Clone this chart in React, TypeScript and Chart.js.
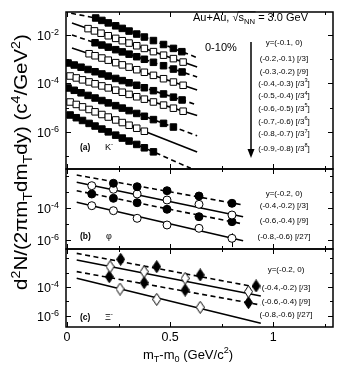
import React, { useEffect, useRef } from "react";
import { Chart, registerables } from "chart.js";
Chart.register(...registerables);

const FONT = "'Liberation Sans', Arial, Helvetica, sans-serif";
const W = 357;
const H = 377;
const PLOT_LEFT = 66;
const PLOT_RIGHT = 333;
const X_MIN = -0.005;
const X_MAX = 1.29;
const X_TICKS = [0, 0.25, 0.5, 0.75, 1, 1.25];
const X_LABELED = [0, 0.5, 1];
const X_TICK_LABELS = ["0", "0.5", "1"];

// ---------------- Panel (a): K- ----------------
const kLegend = [
  "y=(-0.1, 0)",
  "(-0.2,-0.1) [/3]",
  "(-0.3,-0.2) [/9]",
  "(-0.4,-0.3) [/3^{3}]",
  "(-0.5,-0.4) [/3^{4}]",
  "(-0.6,-0.5) [/3^{5}]",
  "(-0.7,-0.6) [/3^{6}]",
  "(-0.8,-0.7) [/3^{7}]",
  "(-0.9,-0.8) [/3^{8}]",
];
const kX1 = [0.139, 0.169, 0.2, 0.236, 0.268, 0.301, 0.338, 0.375, 0.419, 0.468, 0.516, 0.557];
const kY1 = [0.0502, 0.0399, 0.0315, 0.0239, 0.0187, 0.01452, 0.01094, 0.00824, 0.00589, 0.00405, 0.0028, 0.00205];
const kX2 = [0.102, 0.133, 0.165, 0.2, 0.236, 0.268, 0.301, 0.338, 0.375, 0.419, 0.468, 0.516, 0.563];
const kY2 = [0.01828, 0.01476, 0.01183, 0.0093, 0.00726, 0.00582, 0.00464, 0.0036, 0.00279, 0.00206, 0.00147, 0.00106, 0.000764];
const kX3 = [0.136, 0.169, 0.2, 0.236, 0.268, 0.301, 0.338, 0.375, 0.419, 0.468, 0.516, 0.558];
const kY3 = [0.00479, 0.00385, 0.00315, 0.00248, 0.00201, 0.00162, 0.00127, 0.000997, 0.000747, 0.000541, 0.000394, 0.000299];
const kX4 = [0.107, 0.136, 0.169, 0.2, 0.236, 0.268, 0.301, 0.338, 0.375, 0.419, 0.468, 0.516, 0.563];
const kY4 = [0.001687, 0.001393, 0.001122, 0.000916, 0.000723, 0.000586, 0.000472, 0.00037, 0.00029, 0.000217, 0.0001574, 0.0001148, 0.0000843];
const kX5 = [0.005, 0.035, 0.068, 0.102, 0.136, 0.169, 0.2, 0.236, 0.268, 0.301, 0.338, 0.375, 0.419, 0.468, 0.516, 0.558];
const kY5 = [0.0007, 0.000578, 0.000469, 0.000378, 0.000305, 0.000247, 0.000203, 0.0001614, 0.0001318, 0.0001069, 0.0000845, 0.0000668, 0.0000505, 0.000037, 0.0000273, 0.0000209];
const kX6 = [0.015, 0.045, 0.075, 0.107, 0.136, 0.169, 0.2, 0.236, 0.268, 0.301, 0.338, 0.375, 0.419, 0.468, 0.516, 0.563];
const kY6 = [0.0002037, 0.0001695, 0.0001413, 0.0001161, 0.0000973, 0.0000796, 0.0000659, 0.0000529, 0.0000436, 0.0000356, 0.0000284, 0.0000226, 0.0000173, 0.00001285, 0.00000958, 0.00000719];
const kX7 = [0.005, 0.035, 0.068, 0.102, 0.136, 0.169, 0.2, 0.236, 0.268, 0.301, 0.338, 0.375, 0.419, 0.468, 0.516];
const kY7 = [6.52e-5, 5.24e-5, 4.13e-5, 3.22e-5, 2.52e-5, 1.98e-5, 1.585e-5, 1.219e-5, 9.68e-6, 7.62e-6, 5.82e-6, 4.45e-6, 3.24e-6, 2.27e-6, 1.6e-6];
const kX8 = [0.015, 0.045, 0.075, 0.107, 0.136, 0.169, 0.2, 0.236, 0.268, 0.301, 0.338, 0.375];
const kY8 = [1.726e-5, 1.368e-5, 1.086e-5, 8.49e-6, 6.79e-6, 5.26e-6, 4.14e-6, 3.14e-6, 2.45e-6, 1.9e-6, 1.43e-6, 1.074e-6];
const kX9 = [0.015, 0.045, 0.075, 0.107, 0.136, 0.169, 0.2, 0.236, 0.268, 0.301, 0.338, 0.375, 0.419];
const kY9 = [5.02e-6, 3.88e-6, 2.99e-6, 2.26e-6, 1.76e-6, 1.324e-6, 1.012e-6, 7.41e-7, 5.62e-7, 4.23e-7, 3.07e-7, 2.23e-7, 1.52e-7];
// fit lines: three points per curve [x], [y]
const kFitX = [[0.02, 0.139, 0.63], [0.024, 0.631], [0.024, 0.631], [0.024, 0.631], [0.005, 0.631], [0.015, 0.631], [0.005, 0.631], [0.015, 0.631], [0.015, 0.6]];
const kFitY = [[0.0785, 0.0502, 0.00117], [0.03126, 0.000479], [0.01, 0.000185], [0.00291, 0.000054], [0.0007, 0.0000131], [0.000204, 0.00000475], [0.0000652, 6.95e-7], [0.00001726, 1.5e-7], [0.00000502, 3.17e-8]];

// ---------------- Panel (b): phi ----------------
const phiLegend = ["y=(-0.2, 0)", "(-0.4,-0.2) [/3]", "(-0.6,-0.4) [/9]", "(-0.8,-0.6) [/27]"];
const phiX1 = [0.225, 0.34, 0.485, 0.64, 0.8];
const phiY1 = [0.0035, 0.00214, 0.001205, 0.000562, 0.000197];
const phiX2 = [0.12, 0.225, 0.34, 0.485, 0.64, 0.8];
const phiY2 = [0.00248, 0.001476, 0.00075, 0.000316, 0.00017, 0.0000365];
const phiX3 = [0.12, 0.225, 0.34, 0.485, 0.64, 0.8];
const phiY3 = [0.00075, 0.000404, 0.000214, 0.000083, 0.0000286, 0.00001393];
const phiX4 = [0.12, 0.225, 0.34, 0.485, 0.64, 0.8];
const phiY4 = [0.0001393, 0.0000678, 0.0000227, 0.00000866, 0.00000538, 0.000001276];
const phiErrLo4 = [null, null, null, null, null, 3.6e-7];
const phiErrHi4 = [null, null, null, null, null, 2.6e-6];
const phiFitX = [[0.047, 0.854], [0.047, 0.854], [0.047, 0.854], [0.047, 0.854]];
const phiFitY = [[0.01148, 0.000155], [0.00404, 0.0000286], [0.001205, 0.00001], [0.000227, 9.04e-7]];

// ---------------- Panel (c): Xi- ----------------
const xiLegend = ["y=(-0.2, 0)", "(-0.4,-0.2) [/3]", "(-0.6,-0.4) [/9]", "(-0.8,-0.6) [/27]"];
const xiX1 = [0.26, 0.435, 0.646, 0.917];
const xiY1 = [0.00813, 0.00251, 0.000676, 0.0001175];
const xiX2 = [0.209, 0.374, 0.573, 0.88];
const xiY2 = [0.00251, 0.001148, 0.000398, 0.0000479];
const xiErrLo2 = [0.00135, 0.00062, 0.00021, 0.000024];
const xiErrHi2 = [0.0042, 0.0019, 0.00068, 0.000085];
const xiX3 = [0.205, 0.374, 0.573, 0.88];
const xiY3 = [0.000513, 0.0002, 0.0000617, 0.00000832];
const xiX4 = [0.257, 0.435, 0.646];
const xiY4 = [0.0000724, 0.00001413, 0.00000398];
const xiErrLo4 = [0.000039, 0.0000074, 0.0000019];
const xiErrHi4 = [0.000122, 0.0000245, 0.0000072];
const xiFitX = [[0.047, 0.94], [0.047, 0.94], [0.047, 0.94], [0.047, 0.94]];
const xiFitY = [[0.0209, 0.0000851], [0.00724, 0.000024], [0.001148, 0.00000575], [0.000398, 3.16e-7]];

// ---------------- text helpers ----------------
type Seg = { t: string; s?: "sup" | "sub" };
function parseRich(s: string): Seg[] {
  const segs: Seg[] = [];
  let i = 0;
  let buf = "";
  while (i < s.length) {
    const c = s[i];
    if ((c === "^" || c === "_") && s[i + 1] === "{") {
      if (buf) {
        segs.push({ t: buf });
        buf = "";
      }
      const end = s.indexOf("}", i);
      segs.push({ t: s.slice(i + 2, end), s: c === "^" ? "sup" : "sub" });
      i = end + 1;
    } else {
      buf += c;
      i++;
    }
  }
  if (buf) segs.push({ t: buf });
  return segs;
}

function drawRich(
  ctx: CanvasRenderingContext2D,
  text: string,
  x: number,
  y: number,
  size: number,
  align: "left" | "center" | "right",
  bold = false,
  small = 0.7
) {
  const segs = parseRich(text);
  const fontOf = (sz: number) => `${bold ? "bold " : ""}${sz}px ${FONT}`;
  let total = 0;
  const widths = segs.map((sg) => {
    ctx.font = fontOf(sg.s ? size * small : size);
    const w = ctx.measureText(sg.t).width;
    total += w;
    return w;
  });
  const start = align === "left" ? x : align === "center" ? x - total / 2 : x - total;
  let cx = start;
  ctx.textAlign = "left";
  ctx.textBaseline = "alphabetic";
  const base = y + size * 0.36;
  segs.forEach((sg, i) => {
    ctx.font = fontOf(sg.s ? size * small : size);
    const dy = sg.s === "sup" ? -size * 0.42 : sg.s === "sub" ? size * 0.25 : 0;
    ctx.fillText(sg.t, cx, base + dy);
    cx += widths[i];
  });
  return { start, width: total };
}

// ---------------- marker images ----------------
function diamond(filled: boolean) {
  const c = document.createElement("canvas");
  c.width = 9;
  c.height = 13;
  const g = c.getContext("2d")!;
  g.beginPath();
  g.moveTo(4.5, 0.5);
  g.lineTo(8.5, 6.5);
  g.lineTo(4.5, 12.5);
  g.lineTo(0.5, 6.5);
  g.closePath();
  g.fillStyle = filled ? "#000" : "#fff";
  g.fill();
  g.strokeStyle = "#000";
  g.lineWidth = 1;
  g.stroke();
  return c;
}

type Panel = {
  top: number;
  bottom: number;
  yMin: number;
  yMax: number;
  labeled: number[];
  datasets: any[];
  draw: (ctx: CanvasRenderingContext2D, chart: any) => void;
};

const pts = (xs: number[], ys: number[], lo?: (number | null)[], hi?: (number | null)[]) =>
  xs.map((x, i) => ({ x, y: ys[i], lo: lo ? lo[i] : null, hi: hi ? hi[i] : null }));

function fitSet(xs: number[], ys: number[], dashed: boolean) {
  return {
    data: pts(xs, ys),
    showLine: true,
    pointRadius: 0,
    borderColor: "#000",
    borderWidth: 1.6,
    borderDash: dashed ? [5, 3.5] : [],
    fill: false,
    order: 3,
  };
}

function markerSet(xs: number[], ys: number[], style: any, filled: boolean, radius: number, lo?: any[], hi?: any[]) {
  return {
    data: pts(xs, ys, lo, hi),
    showLine: false,
    pointStyle: style,
    pointRadius: radius,
    pointBackgroundColor: filled ? "#000" : "#fff",
    pointBorderColor: "#000",
    pointBorderWidth: 1,
    order: 1,
    errorBars: !!lo,
  };
}

const errorBarPlugin = {
  id: "errorBars",
  beforeDatasetsDraw(chart: any) {
    const ctx: CanvasRenderingContext2D = chart.ctx;
    const xs = chart.scales.x;
    const ys = chart.scales.y;
    ctx.save();
    ctx.strokeStyle = "#000";
    ctx.lineWidth = 1;
    chart.data.datasets.forEach((ds: any) => {
      if (!ds.errorBars) return;
      ds.data.forEach((p: any) => {
        if (p.lo == null || p.hi == null) return;
        const px = Math.round(xs.getPixelForValue(p.x)) + 0.5;
        ctx.beginPath();
        ctx.moveTo(px, ys.getPixelForValue(p.lo));
        ctx.lineTo(px, ys.getPixelForValue(p.hi));
        ctx.stroke();
      });
    });
    ctx.restore();
  },
};

function panelPlugin(panel: Panel) {
  return {
    id: "frame",
    afterDraw(chart: any) {
      const ctx: CanvasRenderingContext2D = chart.ctx;
      const ca = chart.chartArea;
      const xs = chart.scales.x;
      const ys = chart.scales.y;
      ctx.save();
      ctx.strokeStyle = "#000";
      ctx.fillStyle = "#000";
      ctx.lineWidth = 1;
      const line = (x0: number, y0: number, x1: number, y1: number) => {
        ctx.beginPath();
        ctx.moveTo(x0, y0);
        ctx.lineTo(x1, y1);
        ctx.stroke();
      };
      X_TICKS.forEach((v) => {
        const px = Math.round(xs.getPixelForValue(v)) + 0.5;
        const len = X_LABELED.includes(v) ? 5 : 3;
        line(px, ca.top, px, ca.top + len);
        line(px, ca.bottom, px, ca.bottom - len);
      });
      const e0 = Math.ceil(Math.log10(panel.yMin));
      const e1 = Math.floor(Math.log10(panel.yMax));
      for (let e = e0; e <= e1; e++) {
        const py = Math.round(ys.getPixelForValue(Math.pow(10, e))) + 0.5;
        const major = panel.labeled.includes(e);
        const len = major ? 5 : 3;
        line(ca.left, py, ca.left + len, py);
        line(ca.right, py, ca.right - len, py);
        if (major) drawRich(ctx, `10^{${e}}`, 59, py, 12.5, "right", false, 0.72);
      }
      ctx.lineWidth = 1.5;
      ctx.strokeRect(ca.left, ca.top, ca.right - ca.left, ca.bottom - ca.top);
      ctx.lineWidth = 1;
      panel.draw(ctx, chart);
      ctx.restore();
    },
  };
}

function buildPanels(): Panel[] {
  const dOpen = diamond(false);
  const dFilled = diamond(true);
  const kXs = [kX1, kX2, kX3, kX4, kX5, kX6, kX7, kX8, kX9];
  const kYs = [kY1, kY2, kY3, kY4, kY5, kY6, kY7, kY8, kY9];
  const kSets: any[] = [];
  kXs.forEach((xs, i) => {
    const filled = i % 2 === 0;
    kSets.push(fitSet(kFitX[i], kFitY[i], filled));
    kSets.push(markerSet(xs, kYs[i], "rect", filled, 4.6));
  });
  const phiXs = [phiX1, phiX2, phiX3, phiX4];
  const phiYs = [phiY1, phiY2, phiY3, phiY4];
  const phiSets: any[] = [];
  phiXs.forEach((xs, i) => {
    const filled = i % 2 === 0;
    phiSets.push(fitSet(phiFitX[i], phiFitY[i], filled));
    phiSets.push(
      i === 3
        ? markerSet(xs, phiYs[i], "circle", filled, 4, phiErrLo4, phiErrHi4)
        : markerSet(xs, phiYs[i], "circle", filled, 4)
    );
  });
  const xiXs = [xiX1, xiX2, xiX3, xiX4];
  const xiYs = [xiY1, xiY2, xiY3, xiY4];
  const xiLo: any[] = [null, xiErrLo2, null, xiErrLo4];
  const xiHi: any[] = [null, xiErrHi2, null, xiErrHi4];
  const xiSets: any[] = [];
  xiXs.forEach((xs, i) => {
    const filled = i % 2 === 0;
    xiSets.push(fitSet(xiFitX[i], xiFitY[i], filled));
    xiSets.push(markerSet(xs, xiYs[i], filled ? dFilled : dOpen, filled, 5, xiLo[i] || undefined, xiHi[i] || undefined));
  });

  const legend = (ctx: CanvasRenderingContext2D, items: string[], ys: number[], cx: number) => {
    items.forEach((t, i) => drawRich(ctx, t, cx, ys[i], 8, "center", false, 0.7));
  };

  return [
    {
      top: 12,
      bottom: 169,
      yMin: Math.pow(10, -7.526),
      yMax: Math.pow(10, -1.052),
      labeled: [-2, -4, -6],
      datasets: kSets,
      draw: (ctx) => {
        const r = drawRich(ctx, "Au+Au, √s_{NN} = 3.0 GeV", 193, 17, 11, "left");
        ctx.font = `11px ${FONT}`;
        const pre = ctx.measureText("Au+Au, √").width;
        const sw = ctx.measureText("s").width;
        ctx.font = `${11 * 0.7}px ${FONT}`;
        const nw = ctx.measureText("NN").width;
        ctx.beginPath();
        ctx.moveTo(r.start + pre - 0.5, 17 - 5.2);
        ctx.lineTo(r.start + pre + sw + nw + 0.5, 17 - 5.2);
        ctx.lineWidth = 0.8;
        ctx.stroke();
        ctx.lineWidth = 1;
        drawRich(ctx, "0-10%", 205, 47, 11, "left");
        legend(ctx, kLegend, [42.3, 58.3, 70.7, 82.7, 95, 107.7, 120.7, 133.3, 147.7], 284);
        ctx.lineWidth = 1.5;
        ctx.beginPath();
        ctx.moveTo(251, 42);
        ctx.lineTo(251, 150);
        ctx.stroke();
        ctx.beginPath();
        ctx.moveTo(247.5, 149);
        ctx.lineTo(254.5, 149);
        ctx.lineTo(251, 158);
        ctx.closePath();
        ctx.fill();
        ctx.lineWidth = 1;
        drawRich(ctx, "(a)", 80, 147, 8.5, "left", true);
        drawRich(ctx, "K^{-}", 105, 147, 9, "left");
      },
    },
    {
      top: 169,
      bottom: 249,
      yMin: Math.pow(10, -6.5625),
      yMax: Math.pow(10, -1.5625),
      labeled: [-4, -6],
      datasets: phiSets,
      draw: (ctx) => {
        legend(ctx, phiLegend, [192.7, 205, 220, 235.7], 284);
        drawRich(ctx, "(b)", 80, 236, 8.5, "left", true);
        drawRich(ctx, "φ", 106, 236, 9, "left");
      },
    },
    {
      top: 249,
      bottom: 327,
      yMin: Math.pow(10, -6.759),
      yMax: Math.pow(10, -1.379),
      labeled: [-4, -6],
      datasets: xiSets,
      draw: (ctx, chart) => {
        legend(ctx, xiLegend, [269.3, 286.7, 300.7, 314.3], 286);
        drawRich(ctx, "(c)", 80, 316.7, 8.5, "left", true);
        drawRich(ctx, "Ξ^{-}", 105, 316.7, 9, "left");
        const xs = chart.scales.x;
        X_LABELED.forEach((v, i) => drawRich(ctx, X_TICK_LABELS[i], xs.getPixelForValue(v), 336, 12.5, "center"));
        drawRich(ctx, "m_{T}-m_{0} (GeV/c^{2})", 188, 354, 13, "center");
        ctx.save();
        ctx.translate(21, 162);
        ctx.rotate(-Math.PI / 2);
        ctx.scale(1.17, 1);
        drawRich(ctx, "d^{2}N/(2πm_{T}dm_{T}dy) (c^{4}/GeV^{2})", 0, 0, 17.5, "center");
        ctx.restore();
      },
    },
  ];
}

export default function App() {
  const refA = useRef<HTMLCanvasElement>(null);
  const refB = useRef<HTMLCanvasElement>(null);
  const refC = useRef<HTMLCanvasElement>(null);

  useEffect(() => {
    const panels = buildPanels();
    const canvases = [refA.current!, refB.current!, refC.current!];
    const charts = panels.map(
      (p, i) =>
        new Chart(canvases[i], {
          type: "scatter",
          data: { datasets: p.datasets },
          options: {
            animation: false,
            responsive: false,
            events: [],
            layout: { padding: { left: PLOT_LEFT, right: W - PLOT_RIGHT, top: p.top, bottom: H - p.bottom } },
            plugins: { legend: { display: false }, tooltip: { enabled: false } },
            scales: {
              x: { type: "linear", min: X_MIN, max: X_MAX, display: false },
              y: { type: "logarithmic", min: p.yMin, max: p.yMax, display: false },
            },
          } as any,
          plugins: [errorBarPlugin, panelPlugin(p)],
        })
    );
    return () => charts.forEach((c) => c.destroy());
  }, []);

  const cs: React.CSSProperties = { position: "absolute", left: 0, top: 0 };
  return (
    <div style={{ position: "fixed", left: 0, top: 0, width: W, height: H, background: "#fff" }}>
      <canvas ref={refA} width={W} height={H} style={cs} />
      <canvas ref={refB} width={W} height={H} style={cs} />
      <canvas ref={refC} width={W} height={H} style={cs} />
    </div>
  );
}
